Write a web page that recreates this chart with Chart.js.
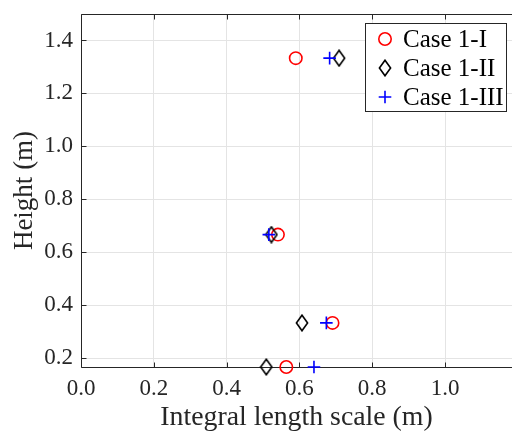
<!DOCTYPE html>
<html>
<head>
<meta charset="utf-8">
<script src="https://cdn.jsdelivr.net/npm/chart.js@4/dist/chart.umd.min.js"></script>
<style>
  html, body { margin: 0; padding: 0; background: #ffffff; overflow: hidden; }
  #wrap { width: 512px; height: 434px; }
</style>
</head>
<body>
<div id="wrap"><canvas id="c" width="512" height="434"></canvas></div>
<script>
// ---- data ----
const heights = [1.3333, 0.6667, 0.3333, 0.1667];
const case1I   = [0.590, 0.541, 0.691, 0.564];
const case1II  = [0.709, 0.523, 0.607, 0.509];
const case1III = [0.683, 0.516, 0.674, 0.640];
const seriesNames = ['Case 1-I', 'Case 1-II', 'Case 1-III'];
const xTicks = [0.0, 0.2, 0.4, 0.6, 0.8, 1.0];
const yTicks = [0.2, 0.4, 0.6, 0.8, 1.0, 1.2, 1.4];
const xTitle = 'Integral length scale (m)';
const yTitle = 'Height (m)';

const FONT = '"Liberation Serif", "Times New Roman", serif';
const AXIS = '#262626';

function toPoints(xs) { return xs.map((x, i) => ({ x: x, y: heights[i] })); }

// diamond marker (taller than wide, as in MATLAB)
function makeDiamond() {
  const c = document.createElement('canvas');
  c.width = 14; c.height = 18;
  const g = c.getContext('2d');
  g.strokeStyle = '#000000';
  g.lineWidth = 1.6;
  g.beginPath();
  g.moveTo(7, 1.2); g.lineTo(12.6, 9); g.lineTo(7, 16.8); g.lineTo(1.4, 9); g.closePath();
  g.stroke();
  return c;
}
const diamondImg = makeDiamond();

const frameAndTicks = {
  id: 'frameAndTicks',
  beforeDatasetsDraw(chart) {
    const { ctx, chartArea: a, scales } = chart;
    ctx.save();
    ctx.strokeStyle = AXIS;
    ctx.lineWidth = 1;
    const L = Math.round(a.left) + 0.5, T = Math.round(a.top) + 0.5, B = Math.round(a.bottom) + 0.5, R = a.right + 2;
    ctx.beginPath();
    ctx.moveTo(R, T); ctx.lineTo(L, T); ctx.lineTo(L, B); ctx.lineTo(R, B);
    ctx.stroke();
    const len = 5;
    ctx.beginPath();
    xTicks.forEach(v => {
      const px = Math.round(scales.x.getPixelForValue(v)) + 0.5;
      ctx.moveTo(px, B); ctx.lineTo(px, B - len);
      ctx.moveTo(px, T); ctx.lineTo(px, T + len);
    });
    yTicks.forEach(v => {
      const py = Math.round(scales.y.getPixelForValue(v)) + 0.5;
      ctx.moveTo(L, py); ctx.lineTo(L + len, py);
    });
    ctx.stroke();
    ctx.restore();
  }
};

const legendBox = {
  id: 'legendBox',
  afterDraw(chart) {
    const { ctx } = chart;
    const x0 = 365.5, y0 = 23.5, w = 141, h = 88;
    ctx.save();
    ctx.fillStyle = '#ffffff';
    ctx.fillRect(x0, y0, w, h);
    ctx.strokeStyle = AXIS;
    ctx.lineWidth = 1;
    ctx.strokeRect(x0, y0, w, h);
    const rows = [39, 68, 97];
    const mx = 385, tx = 403;
    chart.data.datasets.forEach((ds, i) => {
      const y = rows[i];
      ctx.strokeStyle = ds.borderColor;
      ctx.lineWidth = ds.borderWidth;
      if (ds.pointStyle === 'circle') {
        ctx.beginPath(); ctx.arc(mx, y, ds.pointRadius, 0, Math.PI * 2); ctx.stroke();
      } else if (ds.pointStyle === 'cross') {
        const r = ds.pointRadius;
        ctx.beginPath();
        ctx.moveTo(mx - r, y); ctx.lineTo(mx + r, y);
        ctx.moveTo(mx, y - r); ctx.lineTo(mx, y + r);
        ctx.stroke();
      } else {
        ctx.drawImage(ds.pointStyle, mx - ds.pointStyle.width / 2, y - ds.pointStyle.height / 2);
      }
      ctx.fillStyle = '#000000';
      ctx.font = '25px ' + FONT;
      ctx.textBaseline = 'middle';
      ctx.textAlign = 'left';
      ctx.fillText(ds.label, tx, y + 1);
    });
    ctx.restore();
  }
};

function keepTicks(list) {
  return function (scale) {
    scale.ticks = list.map(v => ({ value: v }));
  };
}
function noPad(s) {
  s.paddingLeft = 0; s.paddingRight = 0; s.paddingTop = 0; s.paddingBottom = 0;
}

new Chart(document.getElementById('c'), {
  type: 'scatter',
  data: {
    datasets: [
      { label: seriesNames[0], data: toPoints(case1I), pointStyle: 'circle', pointRadius: 6.2,
        borderColor: '#ff0000', backgroundColor: 'rgba(0,0,0,0)', borderWidth: 1.6, order: 3 },
      { label: seriesNames[1], data: toPoints(case1II), pointStyle: diamondImg, pointRadius: 8,
        borderColor: '#000000', backgroundColor: 'rgba(0,0,0,0)', borderWidth: 1.6, order: 2 },
      { label: seriesNames[2], data: toPoints(case1III), pointStyle: 'cross', pointRadius: 6.3,
        borderColor: '#0000ff', backgroundColor: 'rgba(0,0,0,0)', borderWidth: 1.6, order: 1 }
    ]
  },
  options: {
    responsive: false,
    animation: false,
    clip: false,
    layout: { autoPadding: false, padding: { top: 14, left: 0, right: 0, bottom: 0 } },
    plugins: { legend: { display: false }, tooltip: { enabled: false } },
    scales: {
      x: {
        type: 'linear', min: 0, max: 1.184, bounds: 'data',
        afterBuildTicks: keepTicks(xTicks),
        afterFit(s) { s.height = 67; noPad(s); },
        grid: { color: '#e4e4e4', drawTicks: false, lineWidth: 1 },
        border: { display: false },
        ticks: { font: { family: FONT, size: 23 }, color: AXIS, padding: 8, maxRotation: 0,
          callback: v => Number(v).toFixed(1) },
        title: { display: true, text: xTitle, font: { family: FONT, size: 27.8 }, color: AXIS,
          padding: { top: 0, bottom: 0 } }
      },
      y: {
        type: 'linear', min: 0.1667, max: 1.5, bounds: 'data',
        afterBuildTicks: keepTicks(yTicks),
        afterFit(s) { s.width = 81; noPad(s); },
        grid: { color: '#e4e4e4', drawTicks: false, lineWidth: 1 },
        border: { display: false },
        ticks: { font: { family: FONT, size: 23 }, color: AXIS, padding: 8,
          callback: v => Number(v).toFixed(1) },
        title: { display: true, text: yTitle, font: { family: FONT, size: 27 }, color: AXIS,
          padding: { top: 9, bottom: 0 } }
      }
    }
  },
  plugins: [frameAndTicks, legendBox]
});
</script>
</body>
</html>
